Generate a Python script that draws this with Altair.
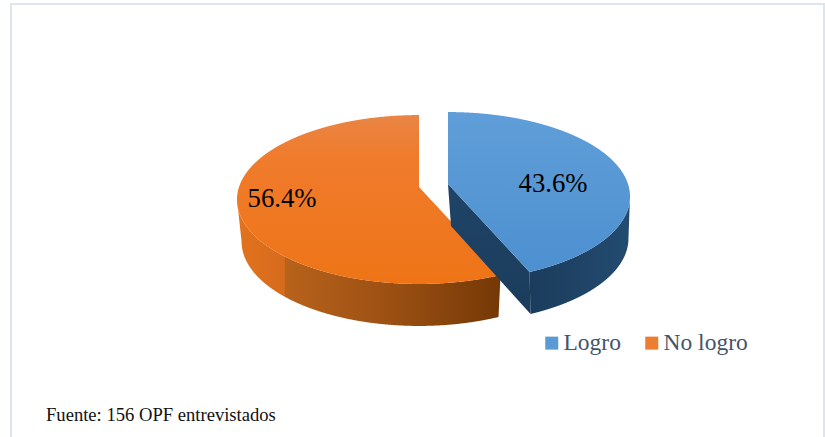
import altair as alt
import numpy as np
import pandas as pd

# Slices in drawing order, clockwise from twelve o'clock
names = ["Logro", "No logro"]
shares = [43.6, 56.4]
label_texts = ["43.6%", "56.4%"]
label_x = [553, 282]
label_y = [184, 199]
legend_colors = ["#5b9bd5", "#ed7d31"]
source_note = "Fuente: 156 OPF entrevistados"

WIDTH, HEIGHT = 825, 437
SERIF = "Liberation Serif"

# Tilted disc: projective view of a unit circle, far side foreshortened
RX, RY, PERSPECTIVE = 180.0, 82.6, 0.148
DEPTH = 42.0
BASE_NARROW = 0.975
ORANGE_APEX = (419.0, 187.0)
BLUE_APEX = (448.0, 184.0)
BLUE_BASE_APEX = (451.0, 184.0)


def rim(apex, degrees, drop=0.0, narrow=1.0):
    t = np.radians(degrees)
    u, v = np.sin(t), np.cos(t)
    w = 1 + PERSPECTIVE * v
    return np.column_stack((apex[0] + narrow * RX * u / w, apex[1] + drop - RY * v / w))


def envelope(poly):
    """Sample a closed x-monotone outline into x / y / y2 rows for an area mark."""
    closed = np.vstack((poly, poly[:1]))
    xs = np.linspace(poly[:, 0].min() + 0.01, poly[:, 0].max() - 0.01, 500)
    xs = np.unique(np.concatenate((xs, poly[:, 0] - 0.01, poly[:, 0] + 0.01)))
    xs = xs[(xs > poly[:, 0].min()) & (xs < poly[:, 0].max())]
    rows = []
    for x in xs:
        hits = []
        for (x0, y0), (x1, y1) in zip(closed[:-1], closed[1:]):
            if (x0 <= x < x1) or (x1 <= x < x0):
                hits.append(y0 + (x - x0) / (x1 - x0) * (y1 - y0))
        if hits:
            rows.append({"x": float(x), "y": float(min(hits)), "y2": float(max(hits))})
    return pd.DataFrame(rows)


def gradient(stops, x2=0, y2=1):
    return alt.Gradient(
        gradient="linear", x1=0, y1=0, x2=x2, y2=y2,
        stops=[alt.GradientStop(offset=o, color=c) for o, c in stops],
    )


x_scale = alt.Scale(domain=[0, WIDTH], range=[0, WIDTH], nice=False, zero=False)
y_scale = alt.Scale(domain=[0, HEIGHT], range=[0, HEIGHT], nice=False, zero=False)


def face(poly, fill):
    return alt.Chart(envelope(poly)).mark_area(orient="vertical", color=fill).encode(
        x=alt.X("x:Q", scale=x_scale, axis=None),
        y=alt.Y("y:Q", scale=y_scale, axis=None),
        y2="y2:Q",
    )


split = shares[0] / 100 * 360
layers = []

# Orange slice: outer wall, then top face
arc_o = np.linspace(split, 261.5, 200)
wall_o = np.vstack((rim(ORANGE_APEX, arc_o), rim(ORANGE_APEX, arc_o[::-1], DEPTH, BASE_NARROW)))
layers.append(face(wall_o, gradient(
    [(0, "#e2731f"), (0.18, "#d66b1c"), (0.181, "#b8621b"), (0.6, "#9a4f12"), (1, "#743806")], x2=1, y2=0)))
top_o = np.vstack(([ORANGE_APEX], rim(ORANGE_APEX, np.linspace(split, 360, 400))))
layers.append(face(top_o, gradient([(0, "#e98545"), (0.25, "#f07b2c"), (1, "#ee7416")])))

# Blue slice: cut wall, outer wall, then top face
blue_end = rim(BLUE_APEX, np.array([split]))
cut = np.vstack(([BLUE_APEX], blue_end,
                 rim(BLUE_BASE_APEX, np.array([split]), DEPTH, BASE_NARROW),
                 [[BLUE_BASE_APEX[0], BLUE_BASE_APEX[1] + DEPTH]]))
layers.append(face(cut, gradient([(0, "#1f4467"), (1, "#1b3c5c")])))
arc_b = np.linspace(98.5, split, 150)
wall_b = np.vstack((rim(BLUE_APEX, arc_b), rim(BLUE_BASE_APEX, arc_b[::-1], DEPTH, BASE_NARROW)))
layers.append(face(wall_b, gradient([(0, "#1b3c5c"), (1, "#234b70")], x2=1, y2=0)))
top_b = np.vstack(([BLUE_APEX], rim(BLUE_APEX, np.linspace(0, split, 300))))
layers.append(face(top_b, gradient([(0, "#5f9ed8"), (1, "#4d90d0")])))

labels = pd.DataFrame({"name": names, "text": label_texts, "x": label_x, "y": label_y})

# Invisible points that carry the colour legend
keys = alt.Chart(labels).mark_square(size=1, opacity=0).encode(
    x=alt.X("x:Q", scale=x_scale, axis=None),
    y=alt.Y("y:Q", scale=y_scale, axis=None),
    color=alt.Color(
        "name:N",
        scale=alt.Scale(domain=names, range=legend_colors),
        legend=alt.Legend(
            title=None, orient="none", legendX=540, legendY=331, direction="horizontal",
            columns=2, symbolType="square", symbolSize=169, symbolOpacity=1,
            symbolStrokeWidth=0, labelFont=SERIF, labelFontSize=23.5, labelColor="#44546a",
            labelOffset=0, columnPadding=19, padding=0, labelLimit=200,
        ),
    ),
)
layers.append(keys)

layers.append(alt.Chart(labels).mark_text(font=SERIF, fontSize=26.7, color="#000000").encode(
    x=alt.X("x:Q", scale=x_scale, axis=None),
    y=alt.Y("y:Q", scale=y_scale, axis=None),
    text="text:N",
))

note = pd.DataFrame({"text": [source_note]})
layers.append(alt.Chart(note).mark_text(font=SERIF, fontSize=18.6, align="left", baseline="alphabetic", color="#111111").encode(
    x=alt.value(46), y=alt.value(421), text="text:N"))

# Thin grey frame around the figure
frame = pd.DataFrame({"a": [1]})
layers.append(alt.Chart(frame).mark_rect(fill="transparent", stroke="#dfe3ea", strokeWidth=2).encode(
    x=alt.value(11), x2=alt.value(824), y=alt.value(4), y2=alt.value(450)))

chart = alt.layer(*layers).properties(
    width=WIDTH, height=HEIGHT, padding=0, background="white",
    autosize=alt.AutoSizeParams(type="none"),
).configure_view(stroke=None)

chart.save("out.html", embed_options={"renderer": "svg", "actions": False})
